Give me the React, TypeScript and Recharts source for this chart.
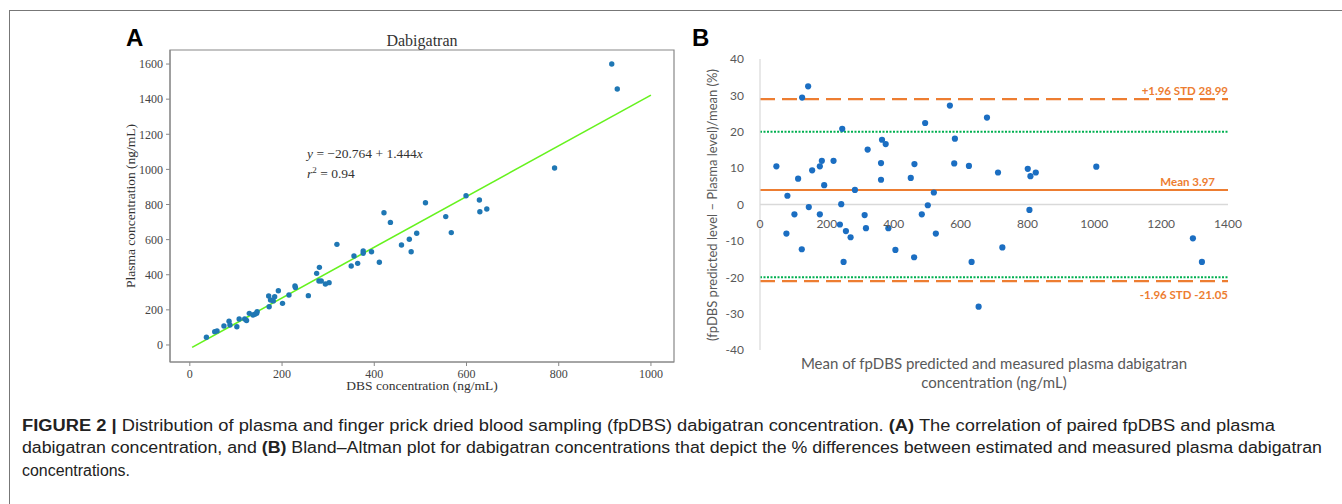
import React from 'react';
import { ScatterChart, Scatter, XAxis, YAxis, ReferenceLine, ReferenceArea } from 'recharts';

// Panel A: fpDBS vs plasma dabigatran (ng/mL)
const dbsConc = [36, 54, 59, 74, 85, 87, 102, 107, 119, 123, 129, 137, 141, 145, 146, 171, 172, 175, 181, 184, 192, 201, 215, 228, 229, 257, 275, 281, 280, 285, 294, 302, 319, 350, 356, 364, 376, 376, 394, 411, 421, 435, 459, 476, 480, 492, 511, 555, 567, 599, 628, 629, 644, 791, 915, 927];
const plasmaConc = [44, 76, 80, 108, 135, 114, 104, 148, 148, 139, 180, 171, 175, 180, 190, 279, 218, 256, 251, 275, 309, 237, 285, 336, 328, 281, 408, 442, 364, 364, 347, 355, 573, 450, 507, 465, 535, 522, 531, 471, 753, 698, 569, 602, 531, 636, 810, 731, 640, 850, 826, 759, 774, 1008, 1600, 1458];
// end points of the fitted line y = -20.764 + 1.444x
const fitLine = [{ x: 5, y: -13.5 }, { x: 1000, y: 1423.2 }];
const ticksAX = [0, 200, 400, 600, 800, 1000];
const ticksAY = [0, 200, 400, 600, 800, 1000, 1200, 1400, 1600];
const domainAX = [-43, 1050];
const domainAY = [-97, 1680];

// Panel B: Bland-Altman, mean conc vs % difference
const meanConc = [49, 82, 103, 114, 126, 144, 146, 156, 179, 179, 185, 192, 220, 243, 246, 284, 313, 322, 362, 362, 365, 376, 451, 462, 484, 494, 502, 520, 568, 583, 581, 625, 679, 712, 79, 125, 239, 250, 257, 271, 317, 384, 405, 461, 526, 633, 654, 725, 801, 809, 825, 1006, 806, 1295, 1322];
const pctDiff = [10.5, 2.4, -2.7, 7.1, 29.4, 32.5, -0.7, 9.4, 10.5, -2.7, 12.0, 5.3, 12.0, 0.1, 20.8, 4.0, -2.9, 15.1, 11.4, 6.8, 17.8, 16.6, 7.3, 11.1, -2.7, 22.4, -0.2, 3.3, 27.2, 18.1, 11.3, 10.6, 23.9, 8.8, -8.0, -12.3, -5.5, -15.8, -7.3, -9.0, -6.5, -6.5, -12.5, -14.5, -8.0, -15.8, -28.1, -11.8, 9.8, 7.8, 8.8, 10.4, -1.5, -9.3, -15.8];
const ticksBX = [0, 200, 400, 600, 800, 1000, 1200, 1400];
const ticksBY = [-40, -30, -20, -10, 0, 10, 20, 30, 40];
const meanDiff = 3.97;
const upperLoA = 28.99;
const lowerLoA = -21.05;
const acceptLimits = [20, -20];

const pointsA = dbsConc.map((x, i) => ({ x, y: plasmaConc[i] }));
const pointsB = meanConc.map((x, i) => ({ x, y: pctDiff[i] }));

const SERIF = '"Liberation Serif", "DejaVu Serif", serif';
const SANS = 'Lato, "Open Sans", sans-serif';
const ORANGE = '#ED7D31';
const GREY_TXT = '#595959';

const DotA = (p: any) => <circle cx={p.cx} cy={p.cy} r={2.7} fill="#1f77b4" />;
const DotB = (p: any) => <circle cx={p.cx} cy={p.cy} r={3.1} fill="#1b6ec2" />;

// Excel draws category labels next to the zero line, not at the bottom
const ZeroLineTick = (p: any) => (
  <text x={p.x} y={p.y - 122.5} textAnchor="middle" fill={GREY_TXT} fontSize={12} fontFamily={SANS}>
    {p.payload.value}
  </text>
);

const EndLabel = ({ viewBox, text, dy, dx = 0 }: any) => (
  <text
    x={viewBox.x + viewBox.width + dx}
    y={viewBox.y + dy}
    textAnchor="end"
    fill={ORANGE}
    fontSize={11.5}
    fontWeight="bold"
    fontFamily={SANS}
  >
    {text}
  </text>
);

export default function App() {
  return (
    <div style={{ position: 'absolute', left: 0, top: 0, width: 1342, height: 504, overflow: 'hidden', background: '#fff' }}>
      {/* figure frame */}
      <div style={{ position: 'absolute', left: 9, top: 10, width: 1400, height: 600, borderTop: '1.5px solid #777', borderLeft: '1.5px solid #777' }} />

      <div style={{ position: 'absolute', left: 0, top: 0 }}>
        <ScatterChart width={700} height={400} margin={{ top: 50, right: 26, bottom: 8, left: 110 }}>
          <XAxis
            type="number"
            dataKey="x"
            domain={domainAX}
            ticks={ticksAX}
            allowDataOverflow
            height={30}
            tickSize={4}
            tickMargin={3}
            axisLine={{ stroke: '#888' }}
            tickLine={{ stroke: '#888' }}
            tick={{ fill: '#444', fontSize: 12, fontFamily: SERIF }}
          />
          <YAxis
            type="number"
            dataKey="y"
            domain={domainAY}
            ticks={ticksAY}
            allowDataOverflow
            width={60}
            tickSize={4}
            tickMargin={3}
            axisLine={{ stroke: '#888' }}
            tickLine={{ stroke: '#888' }}
            tick={{ fill: '#444', fontSize: 12, fontFamily: SERIF }}
          />
          <ReferenceArea
            x1={domainAX[0]}
            x2={domainAX[1]}
            y1={domainAY[0]}
            y2={domainAY[1]}
            fill="none"
            fillOpacity={0}
            stroke="#888"
            strokeWidth={1.2}
            ifOverflow="visible"
          />
          <ReferenceLine segment={fitLine} stroke="#66f21e" strokeWidth={1.6} ifOverflow="visible" />
          <Scatter data={pointsA} shape={DotA} isAnimationActive={false} />
        </ScatterChart>
      </div>

      <div style={{ position: 'absolute', left: 660, top: 0 }}>
        <ScatterChart width={682} height={400} margin={{ top: 59, right: 114, bottom: 30, left: 50 }}>
          <XAxis
            type="number"
            dataKey="x"
            domain={[0, 1400]}
            ticks={ticksBX}
            allowDataOverflow
            height={20}
            axisLine={false}
            tickLine={false}
            tickSize={0}
            tickMargin={0}
            tick={<ZeroLineTick />}
          />
          <YAxis
            type="number"
            dataKey="y"
            domain={[-40, 40]}
            ticks={ticksBY}
            allowDataOverflow
            width={50}
            tickLine={false}
            tickSize={0}
            tickMargin={16}
            axisLine={{ stroke: '#d9d9d9', strokeWidth: 1.2 }}
            tick={{ fill: GREY_TXT, fontSize: 12, fontFamily: SANS }}
          />
          <ReferenceLine y={0} stroke="#d9d9d9" strokeWidth={1.5} />
          {acceptLimits.map((v) => (
            <ReferenceLine key={v} y={v} stroke="#00b050" strokeWidth={2} strokeDasharray="2 1.5" />
          ))}
          <ReferenceLine
            y={upperLoA}
            stroke={ORANGE}
            strokeWidth={2.2}
            strokeDasharray="15 7"
            label={<EndLabel text={`+1.96 STD ${upperLoA}`} dy={-4} />}
          />
          <ReferenceLine
            y={meanDiff}
            stroke={ORANGE}
            strokeWidth={2}
            label={<EndLabel text={`Mean ${meanDiff}`} dy={-4} dx={-13} />}
          />
          <ReferenceLine
            y={lowerLoA}
            stroke={ORANGE}
            strokeWidth={2.2}
            strokeDasharray="15 7"
            label={<EndLabel text={`-1.96 STD ${lowerLoA}`} dy={18} />}
          />
          <Scatter data={pointsB} shape={DotB} isAnimationActive={false} />
        </ScatterChart>
      </div>

      {/* titles, axis titles, annotations, caption */}
      <svg width={1342} height={504} style={{ position: 'absolute', left: 0, top: 0, pointerEvents: 'none' }}>
        <text x={126} y={46} fontFamily='"Liberation Sans", Arial, sans-serif' fontWeight="bold" fontSize={24} fill="#000">A</text>
        <text x={692} y={46} fontFamily='"Liberation Sans", Arial, sans-serif' fontWeight="bold" fontSize={24} fill="#000">B</text>

        <text x={422} y={46} textAnchor="middle" fontFamily={SERIF} fontSize={16} fill="#333">Dabigatran</text>
        <text x={307} y={158} fontFamily={SERIF} fontSize={13.5} fill="#333">
          <tspan fontStyle="italic">y</tspan> = −20.764 + 1.444<tspan fontStyle="italic">x</tspan>
        </text>
        <text x={307} y={178} fontFamily={SERIF} fontSize={13.5} fill="#333">
          <tspan fontStyle="italic">r</tspan><tspan fontSize={9} dy={-5}>2</tspan><tspan dy={5}> = 0.94</tspan>
        </text>
        <text x={422} y={390} textAnchor="middle" fontFamily={SERIF} fontSize={13.5} fill="#333">DBS concentration (ng/mL)</text>
        <text x={135} y={206} textAnchor="middle" transform="rotate(-90 135 206)" fontFamily={SERIF} fontSize={13.5} fill="#333">
          Plasma concentration (ng/mL)
        </text>

        <text x={717} y={205} textAnchor="middle" transform="rotate(-90 717 205)" fontFamily={SANS} fontSize={13} fill={GREY_TXT}>
          (fpDBS predicted level – Plasma level)/mean (%)
        </text>
        <text x={994} y={369} textAnchor="middle" fontFamily={SANS} fontSize={15} fill={GREY_TXT}>
          Mean of fpDBS predicted and measured plasma dabigatran
        </text>
        <text x={994} y={388} textAnchor="middle" fontFamily={SANS} fontSize={15} fill={GREY_TXT}>
          concentration (ng/mL)
        </text>

        <g fontFamily='"Liberation Sans", Arial, sans-serif' fontSize={16} fill="#222">
          <text x={22} y={431} textLength={1253} lengthAdjust="spacingAndGlyphs">
            <tspan fontWeight="bold">FIGURE 2 | </tspan>Distribution of plasma and finger prick dried blood sampling (fpDBS) dabigatran concentration. <tspan fontWeight="bold">(A)</tspan> The correlation of paired fpDBS and plasma
          </text>
          <text x={22} y={453} textLength={1300} lengthAdjust="spacingAndGlyphs">
            dabigatran concentration, and <tspan fontWeight="bold">(B)</tspan> Bland–Altman plot for dabigatran concentrations that depict the % differences between estimated and measured plasma dabigatran
          </text>
          <text x={22} y={476} textLength={108} lengthAdjust="spacingAndGlyphs">concentrations.</text>
        </g>
      </svg>
    </div>
  );
}
